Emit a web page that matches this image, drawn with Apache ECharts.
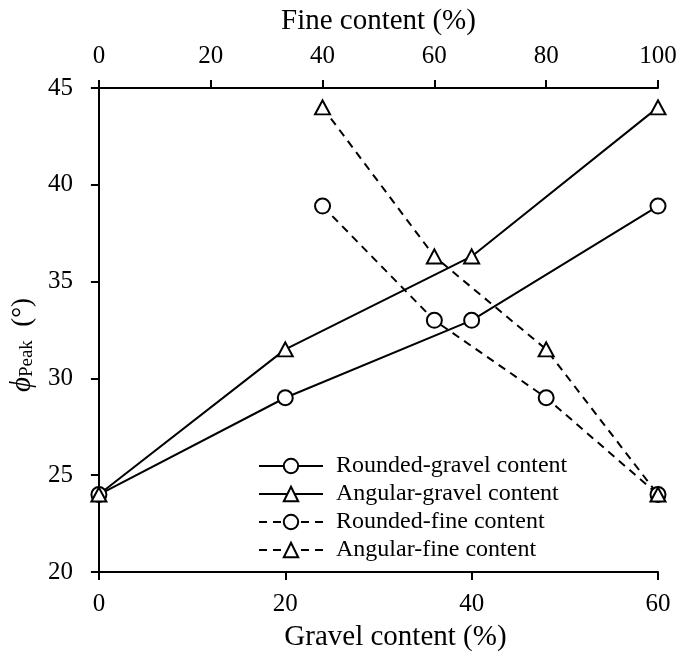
<!DOCTYPE html>
<html>
<head>
<meta charset="utf-8">
<script src="https://cdn.jsdelivr.net/npm/echarts@6/dist/echarts.min.js"></script>
<style>html,body{margin:0;padding:0;background:#fff}#c{width:681px;height:657px}</style>
</head>
<body>
<div id="c"></div>
<script>
var gravelX = [0, 20, 40, 60];
var fineX = [40, 60, 80, 100];
var roundedGravel = [24, 29, 33, 38.9];
var angularGravel = [24, 31.5, 36.3, 44];
var roundedFine = [38.9, 33, 29, 24];
var angularFine = [44, 36.3, 31.5, 24];
var seriesNames = ['Rounded-gravel content', 'Angular-gravel content', 'Rounded-fine content', 'Angular-fine content'];

function pairs(xs, ys) { return xs.map(function (x, i) { return [x, ys[i]]; }); }

var FONT = 'Liberation Serif';
var TRI = 'path://M0,-10L8.66,5L-8.66,5Z';

var chart = echarts.init(document.getElementById('c'));
function mk(name, xi, data, sym, dashed) {
  return {
    name: name, type: 'line', xAxisIndex: xi, data: data,
    symbol: sym, symbolSize: sym === 'circle' ? 15 : [15, 14],
    showSymbol: true,
    itemStyle: { color: '#fff', borderColor: '#000', borderWidth: 2 },
    lineStyle: { color: '#000', width: 2, type: dashed ? [8, 6] : 'solid' },
    emphasis: { disabled: true }, animation: false, z: 3
  };
}
chart.setOption({
  animation: false,
  backgroundColor: '#fff',
  grid: { left: 98, right: 23, top: 88, bottom: 80 },
  legend: {
    orient: 'vertical', left: 258, top: 454, padding: 0,
    itemWidth: 64, itemHeight: 18, itemGap: 4,
    textStyle: { fontFamily: FONT, fontSize: 24, color: '#000', padding: [0, 0, 0, 8] },
    data: seriesNames, selectedMode: false
  },
  xAxis: [
    { type: 'value', position: 'bottom', min: 0, max: 60, interval: 20,
      name: 'Gravel content (%)', nameLocation: 'middle', nameGap: 51,
      nameTextStyle: { fontFamily: FONT, fontSize: 29, color: '#000', padding: [0, 0, 0, 34] },
      axisLine: { lineStyle: { color: '#000', width: 2 } },
      axisTick: { show: true, length: 8, lineStyle: { color: '#000', width: 2 } },
      axisLabel: { fontFamily: FONT, fontSize: 25, color: '#000', margin: 20 },
      splitLine: { show: false } },
    { type: 'value', position: 'top', min: 0, max: 100, interval: 20,
      name: 'Fine content (%)', nameLocation: 'middle', nameGap: 52,
      nameTextStyle: { fontFamily: FONT, fontSize: 29, color: '#000' },
      axisLine: { lineStyle: { color: '#000', width: 2 } },
      axisTick: { show: true, length: 8, lineStyle: { color: '#000', width: 2 } },
      axisLabel: { fontFamily: FONT, fontSize: 25, color: '#000', margin: 19 },
      splitLine: { show: false } }
  ],
  yAxis: [
    { type: 'value', position: 'left', min: 20, max: 45, interval: 5,
      name: '{phi|ϕ}{sub|Peak}{n|  (°)}', nameLocation: 'middle', nameGap: 55,
      nameTextStyle: { fontFamily: FONT, fontSize: 27, color: '#000', padding: [0, 30, 0, 0],
        rich: {
          phi: { fontFamily: FONT, fontSize: 29, fontStyle: 'italic', color: '#000' },
          sub: { fontFamily: FONT, fontSize: 19, color: '#000', verticalAlign: 'bottom', padding: [10, 0, 0, 0] },
          n: { fontFamily: FONT, fontSize: 27, color: '#000' }
        } },
      axisLine: { show: true, lineStyle: { color: '#000', width: 2 } },
      axisTick: { show: true, length: 8, lineStyle: { color: '#000', width: 2 } },
      axisLabel: { fontFamily: FONT, fontSize: 25, color: '#000', margin: 26 },
      splitLine: { show: false } },
    { type: 'value', position: 'right', min: 20, max: 45, interval: 5,
      axisLine: { show: true, lineStyle: { color: '#000', width: 2 } },
      axisTick: { show: false }, axisLabel: { show: false }, splitLine: { show: false } }
  ],
  series: [
    mk(seriesNames[0], 0, pairs(gravelX, roundedGravel), 'circle', false),
    mk(seriesNames[1], 0, pairs(gravelX, angularGravel), TRI, false),
    mk(seriesNames[2], 1, pairs(fineX, roundedFine), 'circle', true),
    mk(seriesNames[3], 1, pairs(fineX, angularFine), TRI, true)
  ]
});
</script>
</body>
</html>
